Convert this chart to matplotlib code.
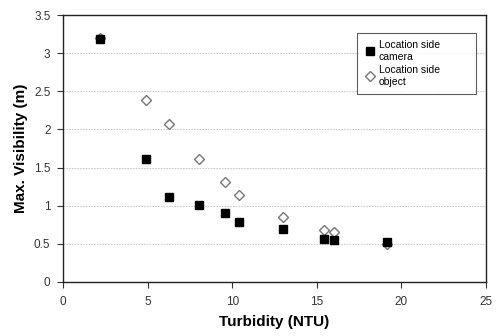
import matplotlib
matplotlib.use("Agg")
import matplotlib.pyplot as plt

plt.rcParams['font.family'] = ['Liberation Sans', 'DejaVu Sans']

# turbidity (NTU) and max visibility (m)
cam_x = [2.2, 4.9, 6.25, 8.05, 9.6, 10.4, 13.0, 15.4, 16.0, 19.15]
cam_y = [3.19, 1.61, 1.11, 1.01, 0.90, 0.78, 0.70, 0.57, 0.55, 0.53]
obj_x = [2.2, 4.9, 6.25, 8.05, 9.6, 10.4, 13.0, 15.4, 16.0, 19.15]
obj_y = [3.2, 2.39, 2.07, 1.61, 1.31, 1.14, 0.85, 0.68, 0.66, 0.50]

fig = plt.figure(figsize=(4.98, 3.36), dpi=100)
ax = fig.add_axes([63/498, 1 - 282/336, (486-63)/498, (282-15)/336])

ax.plot(obj_x, obj_y, linestyle='none', marker='D', markersize=4.8,
        markerfacecolor='white', markeredgecolor='#777777', markeredgewidth=1.0,
        label='Location side\nobject', zorder=3)
ax.plot(cam_x, cam_y, linestyle='none', marker='s', markersize=5.3,
        markerfacecolor='black', markeredgecolor='black',
        label='Location side\ncamera', zorder=4)

ax.set_xlim(0, 25)
ax.set_ylim(0, 3.5)
ax.set_xticks([0, 5, 10, 15, 20, 25])
ax.set_yticks([0, 0.5, 1, 1.5, 2, 2.5, 3, 3.5])
ax.set_yticklabels(['0', '0.5', '1', '1.5', '2', '2.5', '3', '3.5'])
ax.tick_params(labelsize=8.5, colors='#333333', length=4, width=0.8, pad=5)
ax.tick_params(axis='x', pad=6)
ax.yaxis.grid(True, linestyle=(0, (1.5, 1)), color='#cccccc', linewidth=0.8)
ax.set_axisbelow(True)
for s in ax.spines.values():
    s.set_color('#222222')
    s.set_linewidth(1.0)

ax.set_xlabel('Turbidity (NTU)', fontsize=11, fontweight='bold', labelpad=5)
ax.set_ylabel('Max. Visibility (m)', fontsize=11, fontweight='bold', labelpad=4)

# trailing spaces widen the box like in the original
h, l = ax.get_legend_handles_labels()
l = [s.replace('side', 'side          ') for s in l]
leg = ax.legend(h[::-1], l[::-1], loc='upper left', bbox_to_anchor=((357-63)/423, 1 - (33-15)/267),
                fontsize=7.5, frameon=True, fancybox=False, edgecolor='#333333',
                handletextpad=0.4, borderpad=0.7, labelspacing=0.3, handlelength=1.0,
                borderaxespad=0)
leg.get_frame().set_linewidth(0.8)

fig.savefig('out.png', dpi=100)
